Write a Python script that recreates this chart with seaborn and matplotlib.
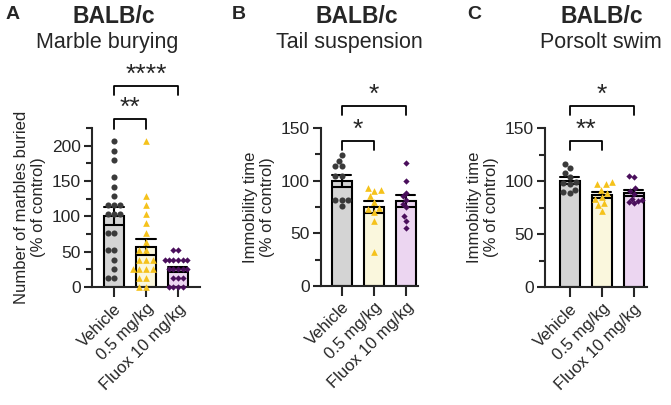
"""BALB/c behaviour panels: marble burying, tail suspension, Porsolt swim."""

import matplotlib.pyplot as plt
import numpy as np
import pandas as pd
import seaborn as sns

groups = ["Vehicle", "0.5 mg/kg", "Fluox 10 mg/kg"]

# panel A: marbles buried, % of control
marble_vehicle = [206, 193, 180, 155, 142, 129, 116, 116, 116, 103, 103, 103,
                  77, 77, 52, 52, 39, 26, 13, 13]
marble_low = [206, 129, 116, 103, 90, 77, 64, 52, 52, 39, 39, 39,
              26, 26, 26, 26, 13, 13, 0, 0]
marble_fluox = [52, 52, 39, 39, 39, 39, 39, 39, 26, 26, 26, 26, 26,
                13, 13, 13, 0, 0, 0, 0]

# panel B: tail suspension immobility, % of control
tail_vehicle = [124, 119, 114, 114, 104, 104, 82, 82, 82, 76]
tail_low = [93, 91, 90, 85, 80, 74, 73, 70, 62, 32]
tail_fluox = [117, 100, 88, 85, 82, 78, 75, 66, 62, 55]

# panel C: Porsolt swim immobility, % of control
swim_vehicle = [116, 112, 108, 104, 99, 98, 97, 92, 90, 89]
swim_low = [99, 97, 97, 92, 89, 85, 83, 79, 77, 72]
swim_fluox = [105, 104, 93, 91, 88, 83, 82, 81, 80, 79]

# significance brackets: (group a, group b, line level, label)
marble_sig = [(0, 1, 238, "**"), (0, 2, 285, "****")]
tail_sig = [(0, 1, 138, "*"), (0, 2, 171, "*")]
swim_sig = [(0, 1, 138, "**"), (0, 2, 171, "*")]

bar_colors = ["#d4d4d4", "#fffbd8", "#efd2f5"]
point_colors = ["#3a3a3a", "#f5c21b", "#4a0f5c"]
markers = ["o", "^", "D"]
point_sizes = [4.4, 4.8, 3.2]


def to_frame(values_per_group):
    rows = []
    for group, values in zip(groups, values_per_group):
        for value in values:
            rows.append({"group": group, "value": value})
    return pd.DataFrame(rows)


def draw_panel(axis, frame, ylim, yticks, xlim, ylabel, sig, leg):
    sns.barplot(
        data=frame, x="group", y="value", order=groups, hue="group",
        hue_order=groups, palette=bar_colors, errorbar="se", capsize=0.6,
        width=0.62, edgecolor="black", linewidth=1.5,
        err_kws={"color": "black", "linewidth": 1.5}, legend=False, ax=axis,
    )
    for group, color, marker, size in zip(groups, point_colors, markers, point_sizes):
        sns.swarmplot(
            data=frame[frame["group"] == group], x="group", y="value",
            order=groups, color=color, marker=marker, size=size,
            linewidth=0, ax=axis, clip_on=False, zorder=4,
        )
    axis.set_ylim(*ylim)
    axis.set_xlim(*xlim)
    axis.set_yticks(yticks)
    axis.set_yticks(np.arange(ylim[0], ylim[1] + 1, (yticks[1] - yticks[0]) / 2), minor=True)
    axis.set_xlabel("")
    axis.set_ylabel(ylabel, fontsize=12, labelpad=4)
    axis.set_xticks(range(len(groups)))
    axis.set_xticklabels(groups, rotation=45, ha="right", rotation_mode="anchor", fontsize=12)
    axis.tick_params(axis="y", labelsize=12.5, width=1.5, length=6, pad=2)
    axis.tick_params(axis="y", which="minor", width=1.5, length=4)
    axis.tick_params(axis="x", width=1.5, length=7, pad=3)
    for side in ("left", "bottom"):
        axis.spines[side].set_linewidth(1.5)
    sns.despine(ax=axis)

    for first, second, level, label in sig:
        axis.plot([first, first, second, second],
                  [level - leg, level, level, level - leg],
                  color="black", linewidth=1.3, clip_on=False)
        axis.text((first + second) / 2, level - leg * 0.15, label,
                  ha="center", va="bottom", fontsize=19, clip_on=False)


sns.set_style("ticks")
plt.rcParams["font.family"] = ["Liberation Sans", "DejaVu Sans"]

fig = plt.figure(figsize=(6.71, 4.05), dpi=100)
ax_a = fig.add_axes([0.137, 0.291, 0.161, 0.393])
ax_b = fig.add_axes([0.478, 0.294, 0.145, 0.390])
ax_c = fig.add_axes([0.812, 0.291, 0.152, 0.393])

draw_panel(ax_a, to_frame([marble_vehicle, marble_low, marble_fluox]),
           (0, 225), [0, 50, 100, 150, 200], (-0.69, 2.69),
           "Number of marbles buried\n(% of control)", marble_sig, 14)
draw_panel(ax_b, to_frame([tail_vehicle, tail_low, tail_fluox]),
           (0, 150), [0, 50, 100, 150], (-0.66, 2.38),
           "Immobility time\n(% of control)", tail_sig, 9)
draw_panel(ax_c, to_frame([swim_vehicle, swim_low, swim_fluox]),
           (0, 150), [0, 50, 100, 150], (-0.78, 2.41),
           "Immobility time\n(% of control)", swim_sig, 9)

titles = [("A", 0.008, 0.170, 0.159, "Marble burying"),
          ("B", 0.346, 0.532, 0.520, "Tail suspension"),
          ("C", 0.696, 0.897, 0.896, "Porsolt swim")]
for letter, letter_x, title_x, sub_x, subtitle in titles:
    fig.text(letter_x, 0.964, letter, fontsize=14, fontweight="bold", va="center")
    fig.text(title_x, 0.960, "BALB/c", fontsize=16.5, fontweight="bold",
             ha="center", va="center")
    fig.text(sub_x, 0.895, subtitle, fontsize=15.5, ha="center", va="center")

fig.savefig("out.png", dpi=100)
